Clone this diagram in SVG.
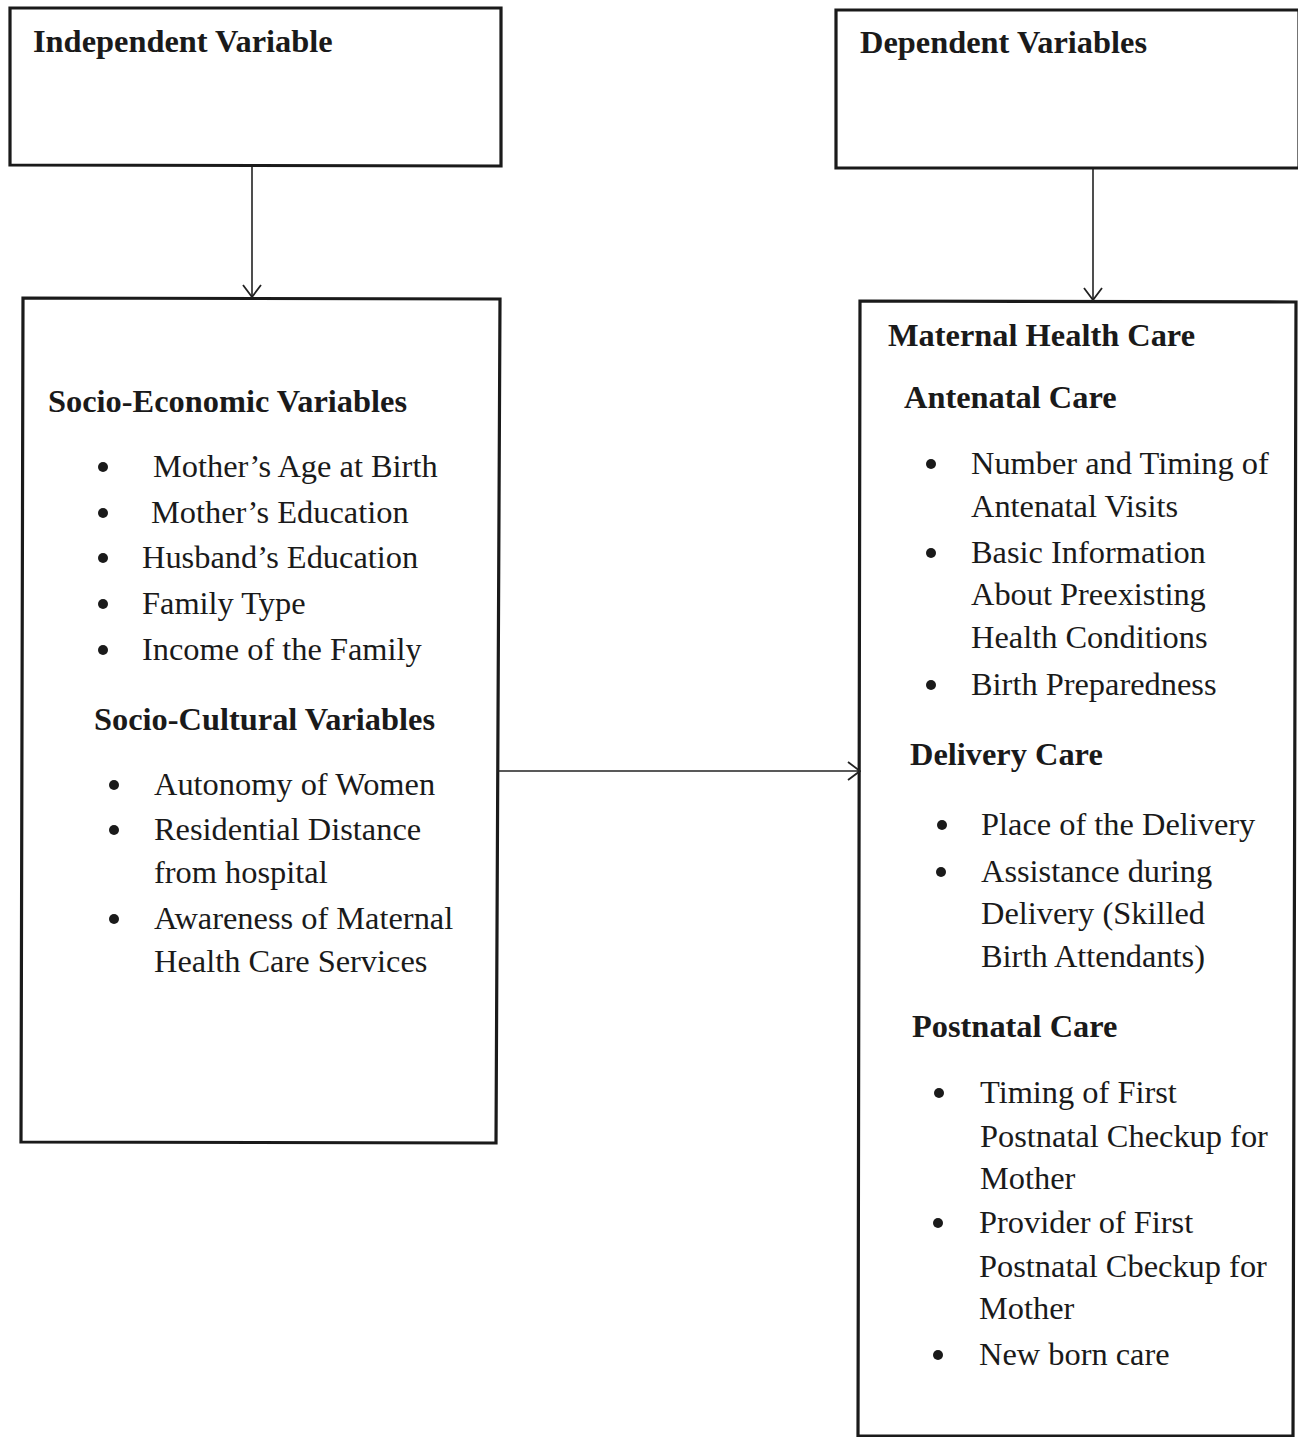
<svg xmlns="http://www.w3.org/2000/svg" width="1298" height="1437" viewBox="0 0 1298 1437">
<style>
.box{fill:#fff;stroke:#1a1a1a;stroke-width:3.2}
.b{font-family:"Liberation Serif","Times New Roman",serif;font-size:32.4px;font-weight:bold;fill:#1a1a1a}
.t{font-family:"Liberation Serif","Times New Roman",serif;font-size:32.4px;fill:#1a1a1a}
.dot{fill:#1a1a1a}
.ln{stroke:#222;stroke-width:1.6;fill:none}
</style>
<defs>
<marker id="ah" viewBox="0 0 14 20" refX="13" refY="10" markerWidth="14" markerHeight="20" markerUnits="userSpaceOnUse" orient="auto">
<path d="M1,1 L13,10 L1,19" fill="none" stroke="#222" stroke-width="1.8"/>
</marker>
</defs>
<rect width="1298" height="1437" fill="#fff"/>
<g id="independent">
<path class="box" d="M10,8 L501,8 L501,166 L10,165 Z"/>
<text class="b" x="33" y="52">Independent Variable</text>
</g>
<g id="dependent">
<path class="box" d="M836,10 L1299,10 L1299,168 L836,168 Z"/>
<text class="b" x="860" y="53">Dependent Variables</text>
</g>
<g id="socio">
<path class="box" d="M23,298 L500,299 L496,1143 L21,1142 Z"/>
<text class="b" x="48" y="412">Socio-Economic Variables</text>
<circle class="dot" cx="103" cy="467" r="5"/><text class="t" x="153" y="477">Mother’s Age at Birth</text>
<circle class="dot" cx="103" cy="513" r="5"/><text class="t" x="151" y="523">Mother’s Education</text>
<circle class="dot" cx="103" cy="558" r="5"/><text class="t" x="142" y="568">Husband’s Education</text>
<circle class="dot" cx="103" cy="604" r="5"/><text class="t" x="142" y="614">Family Type</text>
<circle class="dot" cx="103" cy="650" r="5"/><text class="t" x="142" y="660">Income of the Family</text>
<text class="b" x="94" y="730">Socio-Cultural Variables</text>
<circle class="dot" cx="114" cy="785" r="5"/><text class="t" x="154" y="795">Autonomy of Women</text>
<circle class="dot" cx="114" cy="830" r="5"/><text class="t" x="154" y="840">Residential Distance</text>
<text class="t" x="154" y="883">from hospital</text>
<circle class="dot" cx="114" cy="919" r="5"/><text class="t" x="154" y="929">Awareness of Maternal</text>
<text class="t" x="154" y="972">Health Care Services</text>
</g>
<g id="maternal">
<path class="box" d="M860,301 L1296,302 L1293,1436 L858,1436 Z"/>
<text class="b" x="888" y="346">Maternal Health Care</text>
<text class="b" x="904" y="408">Antenatal Care</text>
<circle class="dot" cx="931" cy="464" r="5"/><text class="t" x="971" y="474">Number and Timing of</text>
<text class="t" x="971" y="517">Antenatal Visits</text>
<circle class="dot" cx="931" cy="553" r="5"/><text class="t" x="971" y="563">Basic Information</text>
<text class="t" x="971" y="605">About Preexisting</text>
<text class="t" x="971" y="648">Health Conditions</text>
<circle class="dot" cx="931" cy="685" r="5"/><text class="t" x="971" y="695">Birth Preparedness</text>
<text class="b" x="910" y="765">Delivery Care</text>
<circle class="dot" cx="942" cy="825" r="5"/><text class="t" x="981" y="835">Place of the Delivery</text>
<circle class="dot" cx="941" cy="872" r="5"/><text class="t" x="981" y="882">Assistance during</text>
<text class="t" x="981" y="924">Delivery (Skilled</text>
<text class="t" x="981" y="967">Birth Attendants)</text>
<text class="b" x="912" y="1037">Postnatal Care</text>
<circle class="dot" cx="939" cy="1093" r="5"/><text class="t" x="980" y="1103">Timing of First</text>
<text class="t" x="980" y="1147">Postnatal Checkup for</text>
<text class="t" x="980" y="1189">Mother</text>
<circle class="dot" cx="938" cy="1223" r="5"/><text class="t" x="979" y="1233">Provider of First</text>
<text class="t" x="979" y="1277">Postnatal Cbeckup for</text>
<text class="t" x="979" y="1319">Mother</text>
<circle class="dot" cx="938" cy="1355" r="5"/><text class="t" x="979" y="1365">New born care</text>
</g>
<g id="connectors">
<line class="ln" x1="252" y1="167" x2="252" y2="297" marker-end="url(#ah)"/>
<line class="ln" x1="1093" y1="169" x2="1093" y2="300" marker-end="url(#ah)"/>
<line class="ln" x1="497" y1="771" x2="860" y2="771" marker-end="url(#ah)"/>
</g>
</svg>
